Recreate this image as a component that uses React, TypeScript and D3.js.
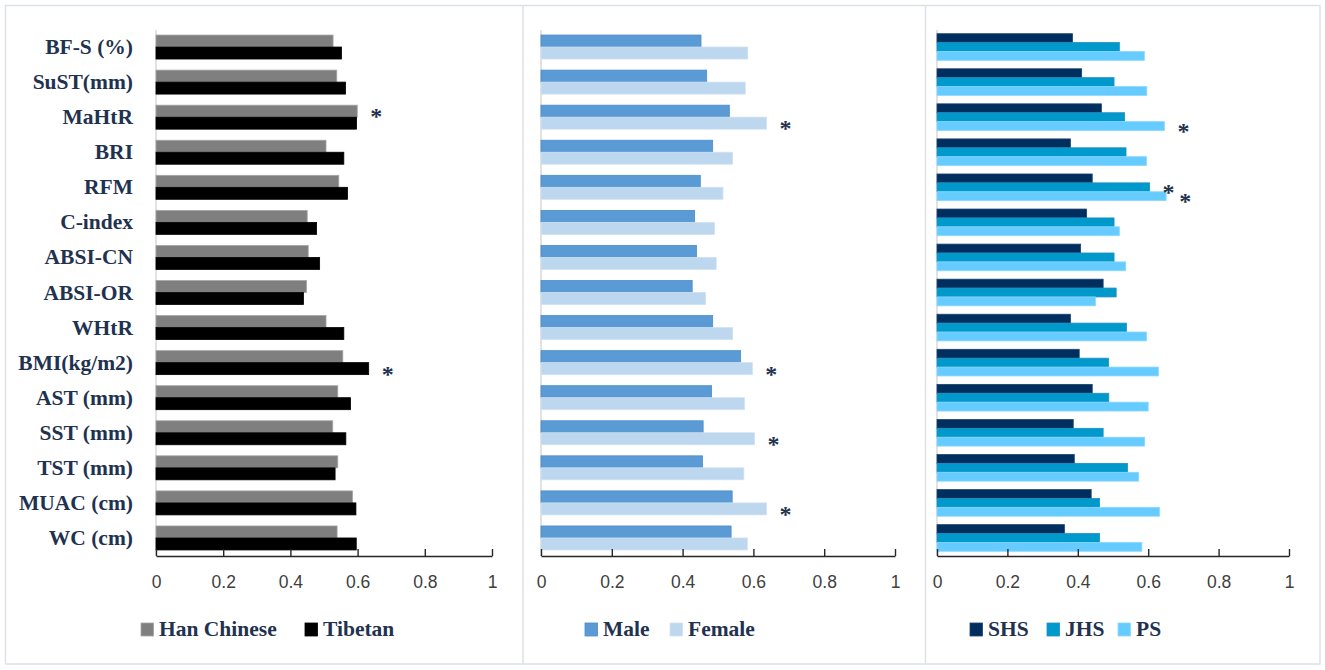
import React, { useRef, useEffect } from 'react';
import * as d3 from 'd3';

const categories = [
  'BF-S (%)', 'SuST(mm)', 'MaHtR', 'BRI', 'RFM', 'C-index', 'ABSI-CN', 'ABSI-OR',
  'WHtR', 'BMI(kg/m2)', 'AST (mm)', 'SST (mm)', 'TST (mm)', 'MUAC (cm)', 'WC (cm)',
];

const hanChinese = [0.527, 0.538, 0.599, 0.506, 0.544, 0.45, 0.453, 0.448, 0.506, 0.556, 0.541, 0.526, 0.541, 0.585, 0.539];
const tibetan = [0.552, 0.564, 0.597, 0.559, 0.57, 0.478, 0.487, 0.439, 0.559, 0.633, 0.579, 0.565, 0.533, 0.595, 0.596];

const male = [0.452, 0.468, 0.532, 0.485, 0.45, 0.434, 0.439, 0.427, 0.485, 0.564, 0.482, 0.458, 0.456, 0.54, 0.537];
const female = [0.584, 0.577, 0.637, 0.541, 0.514, 0.49, 0.495, 0.465, 0.541, 0.597, 0.575, 0.603, 0.573, 0.637, 0.583];

const shs = [0.385, 0.411, 0.467, 0.379, 0.441, 0.425, 0.408, 0.472, 0.379, 0.404, 0.441, 0.387, 0.39, 0.438, 0.362];
const jhs = [0.518, 0.503, 0.533, 0.537, 0.604, 0.503, 0.503, 0.509, 0.538, 0.487, 0.488, 0.472, 0.541, 0.462, 0.462];
const ps = [0.589, 0.596, 0.646, 0.595, 0.651, 0.518, 0.536, 0.45, 0.595, 0.629, 0.6, 0.59, 0.573, 0.632, 0.582];

const tickValues = [0, 0.2, 0.4, 0.6, 0.8, 1];

// significance marks: [category, series index]
const ethnicStars: [string, number][] = [['MaHtR', 0], ['BMI(kg/m2)', 1]];
const sexStars: [string, number][] = [['MaHtR', 1], ['BMI(kg/m2)', 1], ['SST (mm)', 1], ['MUAC (cm)', 1]];
const schoolStars: [string, number][] = [['MaHtR', 2], ['RFM', 1], ['RFM', 2]];

type Series = { name: string; values: number[]; fill: string; stroke: string };

type Panel = {
  x0: number;
  x1: number;
  padding: number;
  series: Series[];
  stars: [string, number][];
  legendX: number[];
  labels: boolean;
};

const TEXT = '#1f3250';
const SERIF = '"Liberation Serif", "DejaVu Serif", serif';

const panels: Panel[] = [
  {
    x0: 156, x1: 492, padding: 0.316, labels: true,
    series: [
      { name: 'Han Chinese', values: hanChinese, fill: '#7f7f7f', stroke: '#a5a5a5' },
      { name: 'Tibetan', values: tibetan, fill: '#000000', stroke: '#000000' },
    ],
    stars: ethnicStars,
    legendX: [141, 305],
  },
  {
    x0: 541, x1: 895, padding: 0.316, labels: false,
    series: [
      { name: 'Male', values: male, fill: '#5b9bd5', stroke: '#4a8ccc' },
      { name: 'Female', values: female, fill: '#bdd7ee', stroke: '#cfe2f3' },
    ],
    stars: sexStars,
    legendX: [585, 670],
  },
  {
    x0: 937, x1: 1289, padding: 0.24, labels: false,
    series: [
      { name: 'SHS', values: shs, fill: '#002f5f', stroke: '#1c4470' },
      { name: 'JHS', values: jhs, fill: '#0099cc', stroke: '#1f8fc0' },
      { name: 'PS', values: ps, fill: '#66ccff', stroke: '#8ad8ff' },
    ],
    stars: schoolStars,
    legendX: [970, 1047, 1118],
  },
];

const App: React.FC = () => {
  const ref = useRef<SVGSVGElement | null>(null);

  useEffect(() => {
    if (!ref.current) return;
    const svg = d3.select(ref.current);
    svg.selectAll('*').remove();

    svg.append('rect').attr('width', 1325).attr('height', 670).attr('fill', '#fff');

    // frame and dividers
    svg.append('rect')
      .attr('x', 5.5).attr('y', 5.5).attr('width', 1314.5).attr('height', 658.5)
      .attr('fill', 'none').attr('stroke', '#dde2ea').attr('stroke-width', 1.5);
    [523, 925.5].forEach((x) => {
      svg.append('line')
        .attr('x1', x).attr('x2', x).attr('y1', 5.5).attr('y2', 664)
        .attr('stroke', '#dde2ea').attr('stroke-width', 1.5);
    });

    panels.forEach((p) => {
      const g = svg.append('g');
      const y = d3.scaleBand<string>()
        .domain(categories)
        .range([29.5, 555.5])
        .paddingInner(p.padding)
        .paddingOuter(p.padding / 2);
      const x = d3.scaleLinear().domain([0, 1]).range([p.x0, p.x1]);
      const sub = d3.scaleBand<number>()
        .domain(d3.range(p.series.length))
        .range([0, y.bandwidth()]);

      // vertical category axis line
      g.append('line')
        .attr('x1', p.x0).attr('x2', p.x0).attr('y1', 30).attr('y2', 556)
        .attr('stroke', '#d9d9d9').attr('stroke-width', 1.5);

      p.series.forEach((s, si) => {
        g.append('g')
          .selectAll('rect')
          .data(s.values)
          .enter()
          .append('rect')
          .attr('x', x(0))
          .attr('y', (_, i) => (y(categories[i]) as number) + (sub(si) as number))
          .attr('width', (d) => x(d) - x(0))
          .attr('height', sub.bandwidth())
          .attr('fill', s.fill)
          .attr('stroke', s.stroke)
          .attr('stroke-width', 0.8);
      });

      // significance asterisks
      g.append('g')
        .selectAll('text')
        .data(p.stars)
        .enter()
        .append('text')
        .attr('x', ([c, si]) => x(p.series[si].values[categories.indexOf(c)]) + 19)
        .attr('y', ([c, si]) => (y(c) as number) + (sub(si) as number) + sub.bandwidth() / 2 + 13)
        .attr('text-anchor', 'middle')
        .attr('font-family', SERIF)
        .attr('font-weight', 'bold')
        .attr('font-size', 24)
        .attr('fill', TEXT)
        .text('*');

      // x axis
      const axis = g.append('g')
        .attr('transform', 'translate(0,556)')
        .call(
          d3.axisBottom(x)
            .tickValues(tickValues)
            .tickFormat((d) => String(d))
            .tickSizeInner(-7)
            .tickSizeOuter(0)
            .tickPadding(20)
        );
      axis.select('.domain').attr('stroke', '#262626').attr('stroke-width', 1.6);
      axis.selectAll('.tick line').attr('stroke', '#262626').attr('stroke-width', 1.4);
      axis.selectAll('.tick text')
        .attr('font-family', '"Liberation Sans", Arial, sans-serif')
        .attr('font-size', 17.5)
        .attr('fill', '#404040');

      if (p.labels) {
        g.append('g')
          .selectAll('text')
          .data(categories)
          .enter()
          .append('text')
          .attr('x', 133)
          .attr('y', (c) => (y(c) as number) + y.bandwidth() / 2 + 7)
          .attr('text-anchor', 'end')
          .attr('font-family', SERIF)
          .attr('font-weight', 'bold')
          .attr('font-size', 21.5)
          .attr('fill', TEXT)
          .text((c) => c);
      }

      // legend
      const lg = g.append('g')
        .selectAll('g')
        .data(p.series)
        .enter()
        .append('g')
        .attr('transform', (_, i) => `translate(${p.legendX[i]},623)`);
      lg.append('rect')
        .attr('width', 12.5).attr('height', 13)
        .attr('fill', (s) => s.fill)
        .attr('stroke', (s) => s.stroke)
        .attr('stroke-width', 0.8);
      lg.append('text')
        .attr('x', 18)
        .attr('y', 13)
        .attr('font-family', SERIF)
        .attr('font-weight', 'bold')
        .attr('font-size', 21.5)
        .attr('fill', TEXT)
        .text((s) => s.name);
    });
  }, []);

  return (
    <svg
      ref={ref}
      width={1325}
      height={670}
      style={{ position: 'absolute', left: 0, top: 0, display: 'block' }}
    />
  );
};

export default App;
